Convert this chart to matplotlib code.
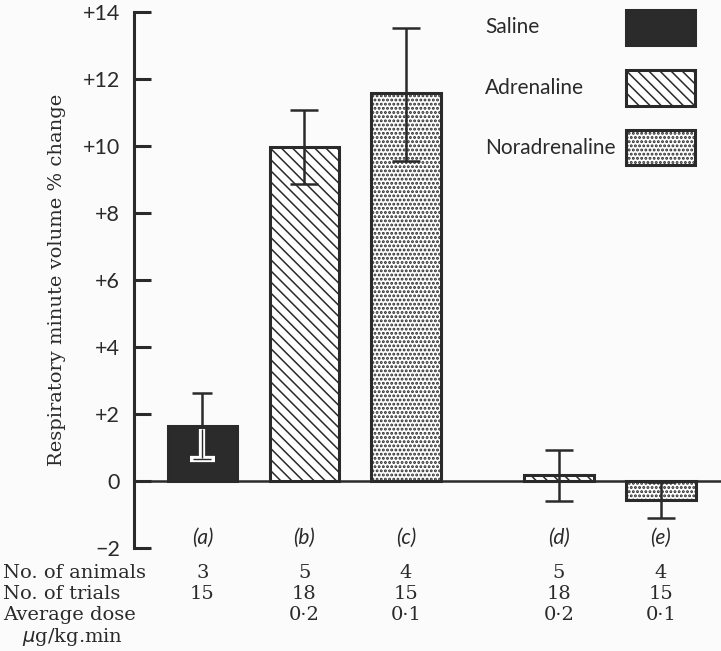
import matplotlib
matplotlib.use('Agg')
import matplotlib.pyplot as plt
import matplotlib.transforms as mtransforms
from matplotlib.patches import Rectangle

# data
groups = ['(a)', '(b)', '(c)', '(d)', '(e)']
positions = [0, 1, 2, 3.5, 4.5]
means = [1.64, 9.97, 11.58, 0.18, -0.57]
err_lo = [0.98, 1.10, 2.02, 0.78, 0.53]
err_hi = [0.99, 1.10, 1.95, 0.75, 0.53]
drug = ['Saline', 'Adrenaline', 'Noradrenaline', 'Adrenaline', 'Noradrenaline']
n_animals = ['3', '5', '4', '5', '4']
n_trials = ['15', '18', '15', '18', '15']
avg_dose = ['', '0·2', '0·1', '0·2', '0·1']
yticks = [-2, 0, 2, 4, 6, 8, 10, 12, 14]
ytick_labels = ['\u22122', '0', '+2', '+4', '+6', '+8', '+10', '+12', '+14']

ink = '#2a2a2a'
bg = '#fbfbfb'
styles = {
    'Saline': dict(facecolor='#2b2b2b', hatch=None),
    'Adrenaline': dict(facecolor='white', hatch='\\\\\\'),
    'Noradrenaline': dict(facecolor='white', hatch='....'),
}
hatch_lw = {'Saline': 1.0, 'Adrenaline': 1.1, 'Noradrenaline': 1.4}

plt.rcParams['hatch.color'] = ink
sans = ['Lato', 'DejaVu Sans']
serif = ['DejaVu Serif']

fig = plt.figure(figsize=(7.21, 6.51), dpi=100, facecolor=bg)
ax = fig.add_axes([0.1859, 0.1582, 0.8141, 0.8234])
ax.set_facecolor(bg)

for x, m, d in zip(positions, means, drug):
    with plt.rc_context({'hatch.linewidth': hatch_lw[d]}):
        ax.bar(x, m, width=0.68, edgecolor=ink, linewidth=2.2, zorder=2, **styles[d])

cap = 0.1
for i, (x, m) in enumerate(zip(positions, means)):
    if drug[i] == 'Saline':
        # upper half dark, lower half drawn white inside the dark bar
        top = m + err_hi[i]
        low = m - err_lo[i]
        ax.vlines(x, m, top, color=ink, linewidth=1.8, zorder=3)
        ax.hlines(top, x - cap, x + cap, color=ink, linewidth=1.8, zorder=3)
        ax.vlines(x, low, m - 0.1, color='white', linewidth=4.5, zorder=3)
        ax.hlines(low, x - cap - 0.02, x + cap + 0.02, color='white', linewidth=4.5, zorder=3)
        ax.vlines(x, low + 0.04, m - 0.1, color=ink, linewidth=1.0, zorder=4)
        ax.hlines(low, x - cap + 0.01, x + cap - 0.01, color=ink, linewidth=1.0, zorder=4)
    else:
        ax.errorbar(x, m, yerr=[[err_lo[i]], [err_hi[i]]], fmt='none', ecolor=ink,
                    elinewidth=1.8, capsize=10, capthick=1.8, zorder=3)

ax.axhline(0, color=ink, linewidth=1.8, zorder=2.5)

ax.set_xlim(-0.67, 5.09)
ax.set_ylim(-2, 14)
for s in ['top', 'right', 'bottom']:
    ax.spines[s].set_visible(False)
ax.spines['left'].set_linewidth(2.2)
ax.spines['left'].set_color(ink)
ax.spines['left'].set_bounds(-2, 14)
ax.set_xticks([])
ax.set_yticks(yticks)
ax.set_yticklabels(ytick_labels, fontfamily=sans, fontsize=15.5, color=ink)
ax.tick_params(axis='y', direction='in', length=12, width=2.2, color=ink, pad=10)
ax.set_ylabel('Respiratory minute volume % change', fontfamily=serif,
              fontsize=14, color=ink, labelpad=12)

for x, g in zip(positions, groups):
    ax.text(x, -1.7, g, ha='center', va='center', fontfamily=sans,
            fontstyle='italic', fontsize=15, color=ink)

# table under the chart
tr = mtransforms.blended_transform_factory(ax.transData, fig.transFigure)
row_y = [0.1198, 0.0876, 0.0553]
row_names = ['No. of animals', 'No. of trials', 'Average dose']
for yy, name, vals in zip(row_y, row_names, [n_animals, n_trials, avg_dose]):
    fig.text(0.004, yy, name, ha='left', va='center', fontfamily=serif,
             fontsize=14, color=ink)
    for x, v in zip(positions, vals):
        ax.text(x, yy, v, transform=tr, ha='center', va='center',
                fontfamily=serif, fontsize=14, color=ink, clip_on=False)
fig.text(0.031, 0.0215, '$\\mu$g/kg.min', ha='left', va='center',
         fontfamily=serif, fontsize=14, color=ink)

# legend boxes
leg_names = ['Saline', 'Adrenaline', 'Noradrenaline']
leg_y = [0.9581, 0.8648, 0.7733]
for yy, name in zip(leg_y, leg_names):
    fig.text(0.673, yy, name, ha='left', va='center', fontfamily=sans,
             fontsize=15, color=ink)
    with plt.rc_context({'hatch.linewidth': hatch_lw[name]}):
        fig.patches.append(Rectangle((0.868, yy - 0.027), 0.096, 0.054,
                                     transform=fig.transFigure, edgecolor=ink,
                                     linewidth=2.2, **styles[name]))

fig.savefig('out.png', dpi=100, facecolor=bg)
